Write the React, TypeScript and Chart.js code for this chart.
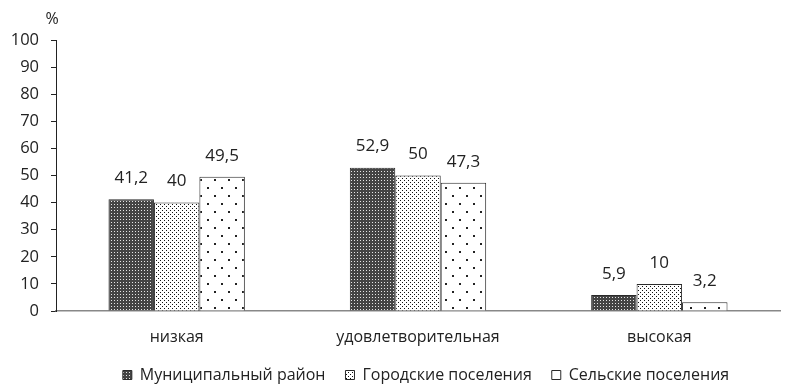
import React, { useEffect, useRef } from "react";
import { Chart, registerables } from "chart.js";

Chart.register(...registerables);

const categories = ["низкая", "удовлетворительная", "высокая"];
const seriesNames = ["Муниципальный район", "Городские поселения", "Сельские поселения"];
const municipal = [41.2, 52.9, 5.9];
const urban = [40, 50, 10];
const rural = [49.5, 47.3, 3.2];
const yTicks = [0, 10, 20, 30, 40, 50, 60, 70, 80, 90, 100];

const FONT = "'Open Sans', 'Noto Sans', sans-serif";

function makePattern(kind: number): CanvasPattern | string {
  const c = document.createElement("canvas");
  const ctx = c.getContext("2d");
  if (!ctx) return "#888";
  if (kind === 0) {
    c.width = 3; c.height = 3;
    ctx.fillStyle = "#444444";
    ctx.fillRect(0, 0, 3, 3);
    ctx.fillStyle = "#e6e6e6";
    ctx.fillRect(1, 1, 1, 1);
  } else if (kind === 1) {
    c.width = 4; c.height = 4;
    ctx.fillStyle = "#ffffff";
    ctx.fillRect(0, 0, 4, 4);
    ctx.fillStyle = "#111111";
    ctx.fillRect(0, 0, 1, 1);
    ctx.fillRect(2, 2, 1, 1);
  } else {
    c.width = 14; c.height = 16;
    ctx.fillStyle = "#ffffff";
    ctx.fillRect(0, 0, 14, 16);
    ctx.fillStyle = "#222222";
    ctx.fillRect(3, 3, 2, 2);
    ctx.fillRect(10, 11, 2, 2);
  }
  const p = ctx.createPattern(c, "repeat");
  return p || "#888";
}

const fmt = (v: number) => String(v).replace(".", ",");

export default function App() {
  const ref = useRef<HTMLCanvasElement | null>(null);
  useEffect(() => {
    if (!ref.current) return;
    const patterns = [makePattern(0), makePattern(1), makePattern(2)];
    const series = [municipal, urban, rural];

    const labelsPlugin = {
      id: "valueLabels",
      afterLayout(chart: any) {
        const lg = chart.legend;
        if (lg) {
          lg.left += 32;
          lg.right += 32;
        }
      },
      afterDatasetsDraw(chart: any) {
        const ctx = chart.ctx;
        ctx.save();
        ctx.font = `17px ${FONT}`;
        ctx.fillStyle = "#222";
        ctx.textAlign = "center";
        ctx.textBaseline = "middle";
        chart.data.datasets.forEach((ds: any, i: number) => {
          const meta = chart.getDatasetMeta(i);
          meta.data.forEach((bar: any, j: number) => {
            ctx.fillText(fmt(ds.data[j]), bar.x, bar.y - 21);
          });
        });
        const ca = chart.chartArea;
        ctx.font = `16px ${FONT}`;
        ctx.fillText("%", ca.left - 4, ca.top - 21);
        ctx.restore();
      },
    };

    const chart = new Chart(ref.current, {
      type: "bar",
      data: {
        labels: categories,
        datasets: series.map((d, i) => ({
          label: seriesNames[i],
          data: d,
          backgroundColor: patterns[i] as any,
          borderColor: "#2a2a2a",
          borderWidth: 1,
          categoryPercentage: 0.565,
          barPercentage: 1,
        })),
      },
      options: {
        animation: false,
        responsive: true,
        maintainAspectRatio: false,
        layout: { padding: { top: 32, right: 3, left: 0, bottom: 0 } },
        plugins: {
          tooltip: { enabled: false },
          legend: {
            position: "bottom",
            labels: {
              font: { family: FONT, size: 16 },
              color: "#222",
              boxWidth: 9,
              boxHeight: 9,
              padding: 20,
            },
          },
        },
        scales: {
          x: {
            grid: { display: false },
            border: { color: "#888", width: 1.5 },
            ticks: { font: { family: FONT, size: 16 }, color: "#222", padding: 9 },
            afterFit: (s: any) => { s.height = 36; },
          },
          y: {
            min: 0,
            max: 100,
            afterBuildTicks: (s: any) => { s.ticks = yTicks.map((v) => ({ value: v })); },
            grid: { drawOnChartArea: false, drawTicks: true, tickLength: 5, color: "#222" },
            border: { color: "#222", width: 1 },
            ticks: { font: { family: FONT, size: 16.5 }, color: "#222", padding: 12 },
            afterFit: (s: any) => { s.width = 48; },
          },
        },
      },
      plugins: [labelsPlugin],
    });
    return () => chart.destroy();
  }, []);
  return (
    <div style={{ width: 775, height: 385, position: "relative" }}>
      <canvas ref={ref} />
    </div>
  );
}
